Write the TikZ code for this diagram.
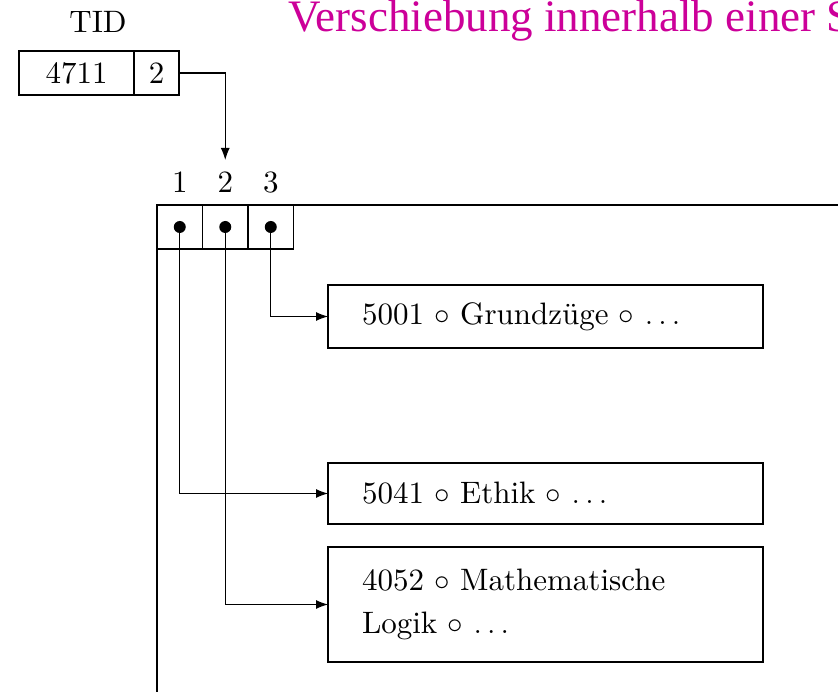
\RequirePackage{fix-cm}
\documentclass[tikz,border=0pt]{standalone}
\usepackage{fontspec}
\setmainfont{lmroman10-regular}[Extension=.otf]
\newfontfamily\titlefont{Liberation Serif}
\usetikzlibrary{arrows.meta,positioning}
\definecolor{titlemagenta}{RGB}{204,0,153}
\tikzstyle{big}=[font=\fontsize{31}{43}\selectfont]
\tikzstyle{cell}=[draw,line width=1.6pt,inner sep=0pt,outer sep=0pt,minimum height=44pt,big]
\tikzstyle{record}=[draw,line width=1.6pt,anchor=north west,inner xsep=34pt,inner ysep=0pt,
               outer sep=0pt,text width=367pt,align=left,big]
\tikzstyle{ptr}=[-{Latex[length=12pt,width=9pt]},line width=1.1pt]
\tikzstyle{frame}=[line width=1.8pt]

\begin{document}
\begin{tikzpicture}[x=1pt,y=-1pt]
\useasboundingbox (0,0) rectangle (838,692);
\node [anchor=base west,inner sep=0pt,text=titlemagenta,
  font=\titlefont\fontsize{45}{50}\selectfont] (title) at (288,32) {Verschiebung innerhalb einer S};
% TID
\node [cell,minimum width=115pt] (tidpage) at (76.5,73) {4711};
\node [cell,minimum width=45pt,right=0pt of tidpage] (tidslot) {2};
\node [anchor=base,inner sep=0pt,big] (tid) at (98,33) {TID};
% page
\draw [frame] (838,205) -- (157,205) -- (157,692);
\foreach \i in {1,2,3} {
  \node [cell,minimum width=45.5pt,anchor=north west] (slot\i) at ({157+45.5*(\i-1)},205) {};
  \node [anchor=base,inner sep=0pt,big] (lbl\i) at ([yshift=12pt]slot\i.north) {\i};
  \fill (slot\i.center) circle (6pt);
}
% records
\node [record,minimum height=63pt] (rec1) at (328,285) {5001 $\circ$ Grundzüge $\circ$ $\ldots$};
\node [record,minimum height=61pt] (rec2) at (328,463) {5041 $\circ$ Ethik $\circ$ $\ldots$};
\node [record,minimum height=115pt] (rec3) at (328,547) {4052 $\circ$ Mathematische\\Logik $\circ$ $\ldots$};
% pointers
\draw [ptr,shorten >=45pt] (tidslot.east) -| (slot2.north);
\draw [ptr] (slot3.center) |- (rec1.west);
\draw [ptr] (slot1.center) |- (rec2.west);
\draw [ptr] (slot2.center) |- (rec3.west);
\end{tikzpicture}
\end{document}
